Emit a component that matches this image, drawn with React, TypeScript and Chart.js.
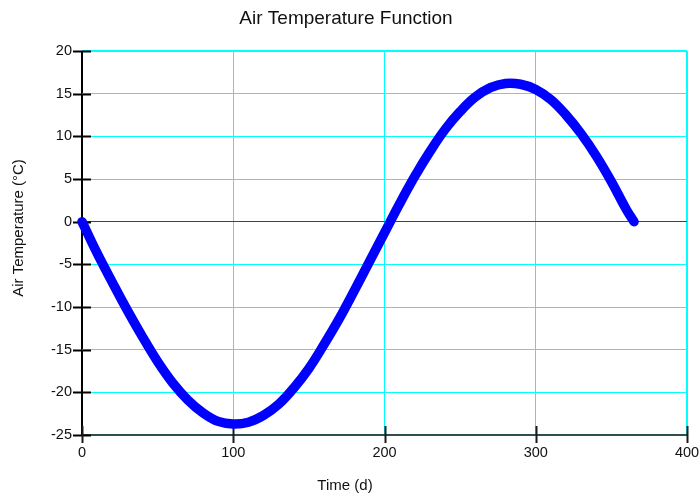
import React, { useEffect, useRef } from "react";
import { Chart, registerables } from "chart.js";

Chart.register(...registerables);

const chartTitle = "Air Temperature Function";
const xTitle = "Time (d)";
const yTitle = "Air Temperature (°C)";

const days = [0, 10, 20, 30, 40, 50, 60, 70, 80, 90, 100, 110, 120, 130, 140, 150, 160, 170, 180, 190, 200, 210, 220, 230, 240, 250, 260, 270, 280, 290, 300, 310, 320, 330, 340, 350, 360, 365];
const temps = [0, -3.7, -7.1, -10.4, -13.5, -16.4, -18.9, -20.9, -22.4, -23.4, -23.7, -23.5, -22.7, -21.4, -19.5, -17.2, -14.4, -11.4, -8.1, -4.7, -1.3, 2.1, 5.3, 8.2, 10.8, 12.9, 14.6, 15.7, 16.2, 16.1, 15.5, 14.3, 12.5, 10.3, 7.7, 4.7, 1.4, 0];

const xTicks = [0, 100, 200, 300, 400];
const yTicks = [-25, -20, -15, -10, -5, 0, 5, 10, 15, 20];

const FONT = "'Liberation Sans', Arial, sans-serif";

export default function App() {
  const ref = useRef<HTMLCanvasElement | null>(null);

  useEffect(() => {
    document.body.style.margin = "0";
    const canvas = ref.current;
    if (!canvas) return;

    const tickMarks = {
      id: "tickMarks",
      beforeDatasetsDraw(chart: any) {
        const ctx = chart.ctx;
        const xs = chart.scales.x;
        const ys = chart.scales.y;
        const area = chart.chartArea;
        ctx.save();
        ctx.lineWidth = 2;
        ctx.strokeStyle = "#000000";
        for (const v of yTicks) {
          const y = Math.round(ys.getPixelForValue(v)) + 0.5;
          ctx.beginPath();
          ctx.moveTo(area.left - 9, y);
          ctx.lineTo(area.left + 9, y);
          ctx.stroke();
        }
        ctx.strokeStyle = "#1a1a1a";
        for (const v of xTicks) {
          const x = Math.round(xs.getPixelForValue(v)) + 0.5;
          ctx.beginPath();
          ctx.moveTo(x, area.bottom - 9);
          ctx.lineTo(x, area.bottom + 8);
          ctx.stroke();
        }
        ctx.restore();
      },
      afterDraw(chart: any) {
        const ctx = chart.ctx;
        ctx.save();
        ctx.fillStyle = "#111111";
        ctx.textAlign = "center";
        ctx.textBaseline = "alphabetic";
        ctx.font = `19px ${FONT}`;
        ctx.fillText(chartTitle, 346, 23.5);
        ctx.font = `15px ${FONT}`;
        ctx.fillText(xTitle, 345, 490);
        ctx.translate(23, 228);
        ctx.rotate(-Math.PI / 2);
        ctx.fillText(yTitle, 0, 0);
        ctx.restore();
      },
    };

    const chart = new Chart(canvas, {
      type: "line",
      data: {
        datasets: [
          {
            data: days.map((d, i) => ({ x: d, y: temps[i] })),
            borderColor: "#0000FF",
            backgroundColor: "#0000FF",
            borderWidth: 9.5,
            borderCapStyle: "round",
            borderJoinStyle: "round",
            pointRadius: 0,
            tension: 0.4,
            fill: false,
            clip: false as any,
          },
        ],
      },
      options: {
        responsive: false,
        animation: false,
        layout: { padding: { top: 51, right: 12, left: 0, bottom: 0 }, autoPadding: false } as any,
        plugins: {
          legend: { display: false },
          title: { display: false },
          tooltip: { enabled: false },
        },
        scales: {
          x: {
            type: "linear",
            min: 0,
            max: 400,
            afterFit: (s: any) => {
              s.height = 61;
              s.paddingLeft = 0;
              s.paddingRight = 0;
            },
            ticks: {
              stepSize: 100,
              color: "#111111",
              font: { family: FONT, size: 14.5 },
              padding: 9,
              maxRotation: 0,
            },
            grid: {
              drawTicks: false,
              color: (c: any) => {
                const v = c.tick ? c.tick.value : null;
                if (v === 0) return "#000000";
                return "#00FFFF";
              },
              lineWidth: (c: any) => {
                const v = c.tick ? c.tick.value : null;
                if (v === 0 || v === 400) return 2;
                return 1;
              },
            },
            border: { display: false },
          },
          y: {
            type: "linear",
            min: -25,
            max: 20,
            afterFit: (s: any) => {
              s.width = 82;
              s.paddingTop = 0;
              s.paddingBottom = 0;
            },
            ticks: {
              stepSize: 5,
              color: "#111111",
              font: { family: FONT, size: 14.5 },
              padding: 10,
            },
            grid: {
              drawTicks: false,
              color: (c: any) => {
                const v = c.tick ? c.tick.value : null;
                if (v === 0) return "#006060";
                if (v === -25) return "#2F4F4F";
                return "#00FFFF";
              },
              lineWidth: (c: any) => {
                const v = c.tick ? c.tick.value : null;
                if (v === -25 || v === 20) return 2;
                return 1;
              },
            },
            border: { display: false },
          },
        },
      },
      plugins: [tickMarks],
    });

    return () => chart.destroy();
  }, []);

  return (
    <div style={{ width: 699, height: 496, background: "#ffffff" }}>
      <canvas ref={ref} width={699} height={496} style={{ display: "block" }} />
    </div>
  );
}
